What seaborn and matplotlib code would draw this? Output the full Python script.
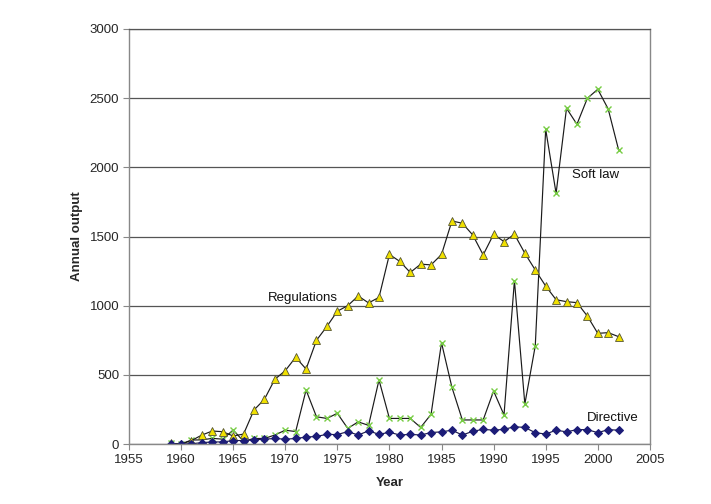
import pandas as pd
import matplotlib
matplotlib.use("Agg")
import matplotlib.pyplot as plt
import seaborn as sns

# ============ DataSet ============
years = list(range(1959, 2003))

regulations = [5, 0, 25, 65, 94, 89, 58, 72, 246, 323, 468, 530, 627, 542,
               750, 850, 960, 1000, 1070, 1020, 1060, 1370, 1320, 1240, 1300, 1295,
               1370, 1612, 1596, 1511, 1367, 1516, 1463, 1516, 1379, 1258, 1142,
               1043, 1029, 1022, 925, 800, 805, 776]

soft_law = [5, 0, 29, 30, 41, 35, 101, 20, 40, 40, 65, 100, 90, 390,
            197, 185, 222, 113, 160, 135, 463, 185, 185, 185, 120, 215,
            732, 410, 174, 174, 174, 383, 210, 1181, 289, 709, 2275,
            1812, 2427, 2311, 2499, 2564, 2422, 2126]

directive = [0, 0, 2, 10, 15, 15, 25, 25, 30, 35, 40, 35, 40, 50,
             55, 70, 68, 90, 65, 95, 70, 85, 65, 70, 65, 83,
             88, 100, 65, 92, 106, 100, 106, 125, 120, 82, 72,
             100, 88, 104, 104, 82, 104, 100]

df = pd.DataFrame({'Year': years, 'Regulations': regulations,
                   'Soft law': soft_law, 'Directive': directive})

# ============ Font Settings ============
sns.set_style("white")
plt.rcParams['font.family'] = ['Liberation Sans', 'DejaVu Sans']
plt.rcParams['font.size'] = 9.5

fig = plt.figure(figsize=(7.11, 5.04), dpi=100)
ax = fig.add_axes([0.1814, 0.119, 0.7326, 0.8235])

# ============ Lines ============
sns.lineplot(data=df, x='Year', y='Soft law', ax=ax, color='#1a1a1a', linewidth=0.85,
             marker='x', markersize=5, markeredgecolor='#77cc44', markeredgewidth=1.0)
sns.lineplot(data=df, x='Year', y='Regulations', ax=ax, color='#1a1a1a', linewidth=0.85,
             marker='^', markersize=6, markerfacecolor='#f0e000', markeredgecolor='#555533',
             markeredgewidth=0.6)
sns.lineplot(data=df, x='Year', y='Directive', ax=ax, color='#1a1a4a', linewidth=0.85,
             marker='D', markersize=4.5, markerfacecolor='#1c1c78', markeredgecolor='#1c1c78')

# ============ Labels ============
ax.text(1997.5, 1945, 'Soft law', fontsize=9.5, color='#111111', va='center')
ax.text(1968.3, 1056, 'Regulations', fontsize=9.5, color='#111111', va='center')
ax.text(1999.0, 188, 'Directive', fontsize=9.5, color='#111111', va='center')

# ============ Axes ============
ax.set_xlim(1955, 2005)
ax.set_ylim(0, 3000)
ax.set_xticks(range(1955, 2006, 5))
ax.set_yticks(range(0, 3001, 500))
ax.set_xlabel('Year', fontsize=9.5, fontweight='bold', labelpad=8)
ax.set_ylabel('Annual output', fontsize=9.5, fontweight='bold', labelpad=5)
ax.yaxis.grid(True, color='#555555', linewidth=0.9)
ax.set_axisbelow(True)
ax.tick_params(axis='both', which='both', direction='out', length=4, width=0.8,
               color='#888888', labelsize=9.5, left=True, bottom=True, pad=3)
for side in ['left', 'bottom', 'right']:
    ax.spines[side].set_color('#888888')
    ax.spines[side].set_linewidth(1.0)
ax.spines['top'].set_color('#555555')
ax.spines['top'].set_linewidth(0.9)

fig.savefig('out.png', dpi=100)
